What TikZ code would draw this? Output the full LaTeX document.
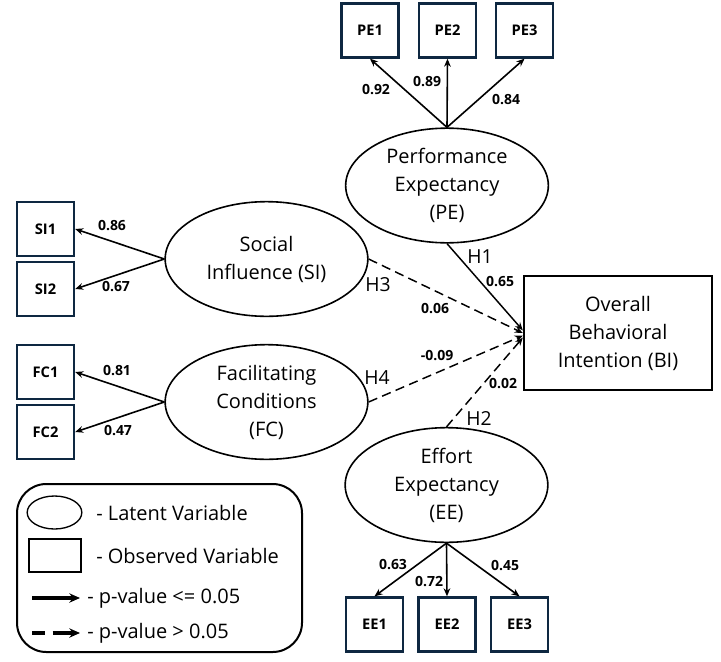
\documentclass[tikz,border=0pt]{standalone}
\usepackage{fontspec}
\setmainfont{Open Sans}
\usepackage{tikz}
\usetikzlibrary{positioning}
\usetikzlibrary{shapes.geometric}
\usetikzlibrary{arrows.meta}
\definecolor{boxblue}{HTML}{0E2841}

\begin{document}
\begin{tikzpicture}[x=0.75pt, y=-0.75pt,
    latent/.style={draw, ellipse, line width=1.2pt, minimum width=152pt, minimum height=86pt, inner sep=0pt, align=center, font=\fontsize{15}{21}\selectfont},
    observed/.style={draw=boxblue, line width=1.8pt, minimum width=42.75pt, minimum height=40.5pt, inner sep=0pt, font=\fontsize{11}{13}\selectfont\bfseries},
    coef/.style={font=\fontsize{10.5}{12}\selectfont\bfseries, inner sep=1pt},
    hyp/.style={font=\fontsize{14.5}{16}\selectfont, inner sep=1pt},
    legtext/.style={anchor=west, inner sep=0pt, font=\fontsize{15}{17}\selectfont},
    load/.style={-{Stealth[length=6pt,width=5pt]}, line width=1.2pt},
    sig/.style={-{Stealth[length=6pt,width=5pt]}, line width=1.1pt},
    nsig/.style={sig, dash pattern=on 7pt off 4pt}]
  \useasboundingbox (0,0) rectangle (721,661);

  % Nodos latentes
  \node[latent] (PE) at (447,185.5) {Performance\\Expectancy\\(PE)};
  \node[latent] (SI) at (266.5,259) {Social\\Influence (SI)};
  \node[latent] (FC) at (266.5,402) {Facilitating\\Conditions\\(FC)};
  \node[latent] (EE) at (446.5,485) {Effort\\Expectancy\\(EE)};
  \node[draw, line width=1.8pt, minimum width=141pt, minimum height=85.5pt, align=center, font=\fontsize{15}{21}\selectfont] (BI) at (618,333) {Overall\\Behavioral\\Intention (BI)};

  % Nodos observados
  \node[observed] (PE1) at (370,30.5) {PE1};
  \node[observed] (PE2) at (447.5,30.5) {PE2};
  \node[observed] (PE3) at (524.5,30.5) {PE3};
  \node[observed] (SI1) at (45.5,229) {SI1};
  \node[observed] (SI2) at (45.5,289) {SI2};
  \node[observed] (FC1) at (45.5,372) {FC1};
  \node[observed] (FC2) at (45.5,432) {FC2};
  \node[observed] (EE1) at (374.5,624.5) {EE1};
  \node[observed] (EE2) at (447,624.5) {EE2};
  \node[observed] (EE3) at (519.5,624.5) {EE3};

  % Cargas
  \draw[load] (PE.north) -- (PE1.south);
  \draw[load] (PE.north) -- (PE2.south);
  \draw[load] (PE.north) -- (PE3.south);
  \draw[load] (SI.west) -- (SI1.east);
  \draw[load] (SI.west) -- (SI2.east);
  \draw[load] (FC.west) -- (FC1.east);
  \draw[load] (FC.west) -- (FC2.east);
  \draw[load] (EE.south) -- (EE1.north);
  \draw[load] (EE.south) -- (EE2.north);
  \draw[load] (EE.south) -- (EE3.north);

  \node[coef] (lPE1) at (376,90) {0.92};
  \node[coef] (lPE2) at (427,82) {0.89};
  \node[coef] (lPE3) at (506,100) {0.84};
  \node[coef] (lSI1) at (112,226) {0.86};
  \node[coef] (lSI2) at (116,287) {0.67};
  \node[coef] (lFC1) at (117,371) {0.81};
  \node[coef] (lFC2) at (118,431) {0.47};
  \node[coef] (lEE1) at (393,565) {0.63};
  \node[coef] (lEE2) at (429,582) {0.72};
  \node[coef] (lEE3) at (505,566) {0.45};

  % Aristas (hipotesis)
  \draw[sig] (PE.south) -- ([yshift=2pt]BI.west);
  \draw[nsig] (SI.east) -- (BI.west);
  \draw[nsig] (FC.east) -- ([yshift=-2pt]BI.west);
  \draw[nsig] (EE.north) -- ([yshift=-3.5pt]BI.west);

  \node[hyp] (h1) at (480,257) {H1};
  \node[hyp] (h3) at (378,285) {H3};
  \node[hyp] (h4) at (377,378) {H4};
  \node[hyp] (h2) at (479,418) {H2};
  \node[coef] (b1) at (500,282) {0.65};
  \node[coef] (b3) at (435,309) {0.06};
  \node[coef] (b4) at (437,356) {-0.09};
  \node[coef] (b2) at (503,384) {0.02};

  % Leyenda
  \node[draw, line width=1.5pt, rounded corners=22pt, minimum width=213.75pt, minimum height=126pt] (leg) at (159.5,568) {};
  \node[draw, ellipse, line width=1pt, minimum width=41pt, minimum height=24.75pt, inner sep=0pt] (legL) at (54.5,512.5) {};
  \node[draw, line width=1.5pt, minimum width=39pt, minimum height=24.75pt, inner sep=0pt] (legO) at (55,555.5) {};
  \coordinate (sA) at (32,598);
  \coordinate (sB) at (80,598);
  \coordinate (dA) at (32,633);
  \coordinate (dB) at (80,633);
  \draw[-{Stealth[length=8pt,width=7pt]}, line width=2.3pt] (sA) -- (sB);
  \draw[-{Stealth[length=8pt,width=7pt]}, line width=2.3pt, dash pattern=on 9.5pt off 6pt on 20pt] (dA) -- (dB);
  \node[legtext] (tL) at (96,513) {- Latent Variable};
  \node[legtext] (tO) at (96,556) {- Observed Variable};
  \node[legtext] (tS) at (87,598) {- p-value <= 0.05};
  \node[legtext] (tD) at (87,633) {- p-value > 0.05};
\end{tikzpicture}
\end{document}
